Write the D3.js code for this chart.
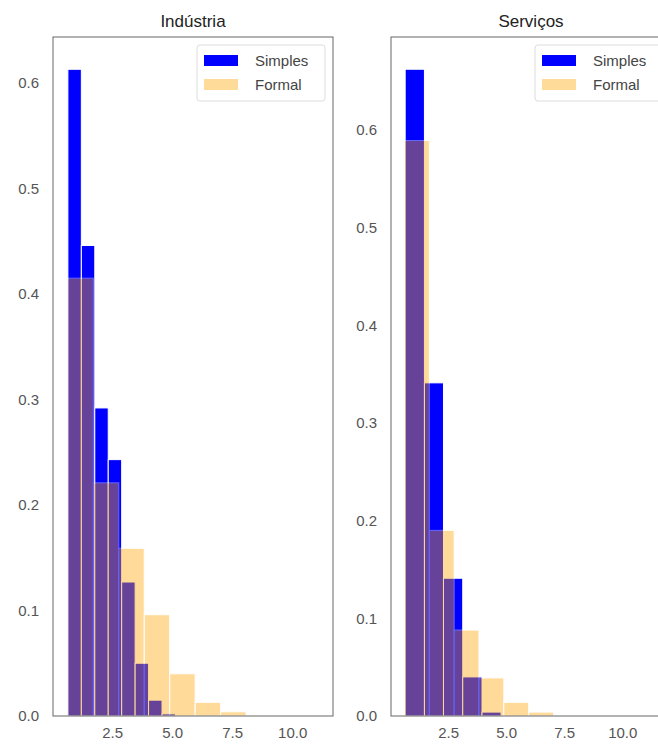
<!DOCTYPE html>
<html lang="pt">
<head>
<meta charset="utf-8">
<title>Indústria / Serviços</title>
<script src="https://d3js.org/d3.v7.min.js"></script>
<style>
  body { margin: 0; background: #fff; }
  svg { font-family: "Liberation Sans", Arial, sans-serif; }
  .tick text { fill: #555; font-size: 15px; }
  .title { fill: #222; font-size: 17px; text-anchor: middle; }
  .legend text { fill: #444; font-size: 15px; }
</style>
</head>
<body>
<svg width="658" height="744"></svg>
<script>
  // series names
  var seriesNames = ["Simples", "Formal"];
  var panelTitles = ["Indústria", "Serviços"];

  // Indústria: bin edges and densities
  var indSimplesEdges = [0.66, 1.22, 1.78, 2.34, 2.90, 3.46, 4.02, 4.58, 5.14];
  var indSimplesVals  = [0.613, 0.446, 0.292, 0.243, 0.127, 0.050, 0.015, 0.002];
  var indFormalEdges  = [0.66, 1.72, 2.78, 3.84, 4.90, 5.96, 7.02, 8.08];
  var indFormalVals   = [0.415, 0.221, 0.159, 0.096, 0.040, 0.013, 0.004];

  // Serviços
  var serSimplesEdges = [0.65, 1.48, 2.30, 3.13, 3.96, 4.78];
  var serSimplesVals  = [0.662, 0.341, 0.141, 0.040, 0.004];
  var serFormalEdges  = [0.62, 1.69, 2.76, 3.83, 4.90, 5.97, 7.04, 8.11];
  var serFormalVals   = [0.589, 0.190, 0.088, 0.039, 0.014, 0.004, 0.001];

  // axis limits and ticks
  var xDomains = [[0.04, 11.7], [0.04, 12.1]];
  var yDomains = [[0, 0.6436], [0, 0.695]];
  var xTicks = [2.5, 5.0, 7.5, 10.0];
  var yTicks = [0, 0.1, 0.2, 0.3, 0.4, 0.5, 0.6];

  var svg = d3.select("svg");

  var axTop = 37, axBottom = 716, panelW = 280;
  var lefts = [53, 391];
  var formalAlpha = 0.4;

  var panels = [
    { simples: [indSimplesEdges, indSimplesVals], formal: [indFormalEdges, indFormalVals] },
    { simples: [serSimplesEdges, serSimplesVals], formal: [serFormalEdges, serFormalVals] }
  ];

  function bins(edges, vals) {
    return vals.map(function(v, i) { return { x0: edges[i], x1: edges[i + 1], v: v }; });
  }

  panels.forEach(function(p, k) {
    var x = d3.scaleLinear().domain(xDomains[k]).range([lefts[k], lefts[k] + panelW]);
    var y = d3.scaleLinear().domain(yDomains[k]).range([axBottom, axTop]);

    var g = svg.append("g");

    // clip to axes area
    var clipId = "clip" + k;
    g.append("clipPath").attr("id", clipId)
      .append("rect")
      .attr("x", lefts[k]).attr("y", axTop)
      .attr("width", panelW).attr("height", axBottom - axTop);

    var plot = g.append("g").attr("clip-path", "url(#" + clipId + ")");

    // Simples (blue, opaque)
    plot.append("g")
      .selectAll("rect")
      .data(bins(p.simples[0], p.simples[1]))
      .enter().append("rect")
      .attr("x", function(d) { return x(d.x0); })
      .attr("width", function(d) { return x(d.x1) - x(d.x0); })
      .attr("y", function(d) { return y(d.v); })
      .attr("height", function(d) { return y(0) - y(d.v); })
      .attr("fill", "#0000ff")
      .attr("stroke", "#fff")
      .attr("stroke-width", 1);

    // Formal (orange, transparent, on top)
    plot.append("g")
      .attr("opacity", formalAlpha)
      .selectAll("rect")
      .data(bins(p.formal[0], p.formal[1]))
      .enter().append("rect")
      .attr("x", function(d) { return x(d.x0); })
      .attr("width", function(d) { return x(d.x1) - x(d.x0); })
      .attr("y", function(d) { return y(d.v); })
      .attr("height", function(d) { return y(0) - y(d.v); })
      .attr("fill", "#ffa500")
      .attr("stroke", "#fff")
      .attr("stroke-width", 1);

    // axes (seaborn white: no tick marks)
    var xa = g.append("g")
      .attr("transform", "translate(0," + axBottom + ")")
      .call(d3.axisBottom(x).tickValues(xTicks).tickFormat(d3.format(".1f")).tickSize(0).tickPadding(11));
    xa.select(".domain").remove();

    var ya = g.append("g")
      .attr("transform", "translate(" + lefts[k] + ",0)")
      .call(d3.axisLeft(y).tickValues(yTicks).tickFormat(d3.format(".1f")).tickSize(0).tickPadding(14));
    ya.select(".domain").remove();
    g.selectAll(".tick text").attr("font-family", null).attr("font-size", null);

    // frame
    g.append("rect")
      .attr("x", lefts[k]).attr("y", axTop)
      .attr("width", panelW).attr("height", axBottom - axTop)
      .attr("fill", "none")
      .attr("stroke", "#666")
      .attr("stroke-width", 1);

    // title
    g.append("text")
      .attr("class", "title")
      .attr("x", lefts[k] + panelW / 2)
      .attr("y", 27)
      .text(panelTitles[k]);

    // legend
    var lx = lefts[k] + panelW - 136, ly = axTop + 8;
    var lg = g.append("g").attr("class", "legend");
    lg.append("rect")
      .attr("x", lx).attr("y", ly)
      .attr("width", 128).attr("height", 56)
      .attr("rx", 3)
      .attr("fill", "#fff").attr("fill-opacity", 0.8)
      .attr("stroke", "#ddd");
    var colors = [["#0000ff", 1], ["#ffa500", formalAlpha]];
    seriesNames.forEach(function(name, i) {
      lg.append("rect")
        .attr("x", lx + 7).attr("y", ly + 10 + i * 24)
        .attr("width", 34).attr("height", 11)
        .attr("fill", colors[i][0]).attr("fill-opacity", colors[i][1]);
      lg.append("text")
        .attr("x", lx + 58).attr("y", ly + 15.5 + i * 24)
        .attr("dy", "0.35em")
        .text(name);
    });
  });
</script>
</body>
</html>
